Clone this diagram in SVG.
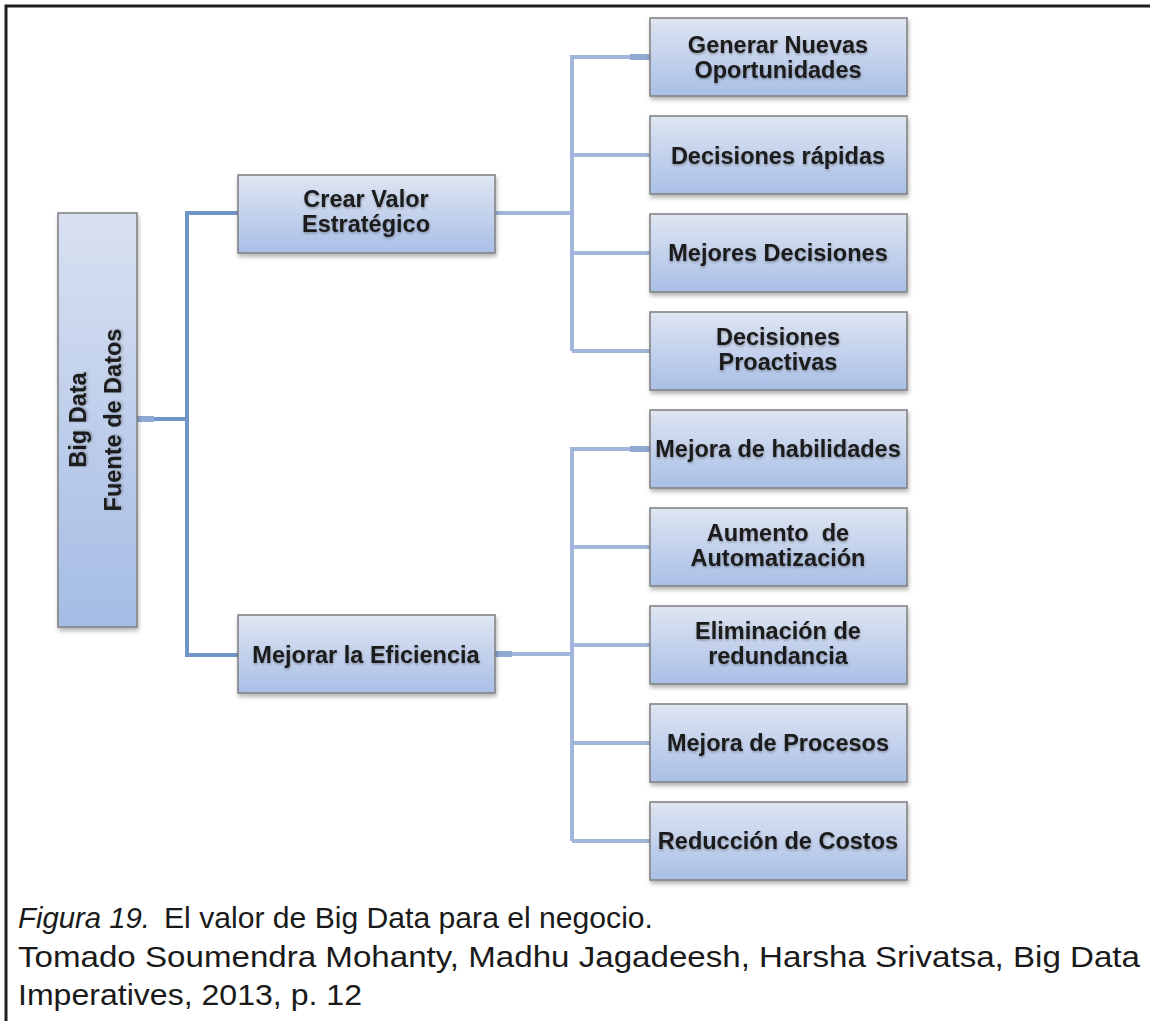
<svg xmlns="http://www.w3.org/2000/svg" width="1150" height="1021" viewBox="0 0 1150 1021">
<defs>
<linearGradient id="g" x1="0" y1="0" x2="0" y2="1">
<stop offset="0" stop-color="#dfe5f2"/>
<stop offset="1" stop-color="#a9bfe6"/>
</linearGradient>
<linearGradient id="gv" x1="0" y1="0" x2="0" y2="1">
<stop offset="0" stop-color="#d9e1f1"/>
<stop offset="1" stop-color="#a5bce5"/>
</linearGradient>
<filter id="sh" x="-10%" y="-10%" width="130%" height="140%">
<feDropShadow dx="1" dy="3" stdDeviation="2" flood-color="#000" flood-opacity="0.3"/>
</filter>
<filter id="ts" x="-5%" y="-20%" width="110%" height="150%">
<feDropShadow dx="0.5" dy="1.5" stdDeviation="1.2" flood-color="#000" flood-opacity="0.3"/>
</filter>
</defs>
<style>
.box{fill:url(#g);stroke:#7f7f7f;stroke-width:1.5;filter:url(#sh)}
.t{font-family:"Liberation Sans",Arial,sans-serif;font-weight:bold;font-size:23.5px;fill:#1a1a1a;text-anchor:middle;filter:url(#ts)}
.cl{fill:none;stroke:#7096c8;stroke-width:4}
.cr{fill:none;stroke:#a0b5d9;stroke-width:4}
.stub{stroke:#90a9d3;stroke-width:6}
.cap{font-family:"Liberation Sans",Arial,sans-serif;font-size:30px;fill:#1a1a1a}
</style>
<rect width="1150" height="1021" fill="#fff"/>
<path d="M6 1021 V6 H1150" fill="none" stroke="#1e1e1e" stroke-width="3"/>

<g id="connectors">
<path class="cl" d="M137 419 H187 M187 213 V655 M185 213 H238 M185 655 H238"/>
<path class="cr" d="M495 213 H572 M572 57 V351 M570 57 H650 M572 155 H650 M572 253 H650 M572 351 H650"/>
<path class="cr" d="M495 654 H572 M572 449 V841 M570 449 H650 M572 547 H650 M572 645 H650 M572 743 H650 M572 841 H650"/>
<path class="stub" d="M137 419 H154 M495 654 H512 M630 449 H650 M630 57 H650"/>
</g>

<g id="bigdata">
<rect x="58" y="213" width="79" height="414" fill="url(#gv)" stroke="#7f7f7f" stroke-width="1.5" filter="url(#sh)"/>
<text class="t" transform="translate(97 420) rotate(-90)"><tspan x="0" y="-11">Big Data</tspan><tspan x="0" y="24">Fuente de Datos</tspan></text>
</g>

<g id="crear">
<rect class="box" x="238" y="175" width="257" height="78"/>
<text class="t"><tspan x="366" y="207">Crear Valor</tspan><tspan x="366" y="232">Estratégico</tspan></text>
</g>
<g id="mejorar">
<rect class="box" x="238" y="615" width="257" height="78"/>
<text class="t" x="366" y="663">Mejorar la Eficiencia</text>
</g>

<g id="n1">
<rect class="box" x="650" y="18" width="257" height="78"/>
<text class="t"><tspan x="778" y="53">Generar Nuevas</tspan><tspan x="778" y="78">Oportunidades</tspan></text>
</g>
<g id="n2">
<rect class="box" x="650" y="116" width="257" height="78"/>
<text class="t" x="778" y="164">Decisiones rápidas</text>
</g>
<g id="n3">
<rect class="box" x="650" y="214" width="257" height="78"/>
<text class="t" x="778" y="261">Mejores Decisiones</text>
</g>
<g id="n4">
<rect class="box" x="650" y="312" width="257" height="78"/>
<text class="t"><tspan x="778" y="345">Decisiones</tspan><tspan x="778" y="370">Proactivas</tspan></text>
</g>
<g id="n5">
<rect class="box" x="650" y="410" width="257" height="78"/>
<text class="t" x="778" y="457">Mejora de habilidades</text>
</g>
<g id="n6">
<rect class="box" x="650" y="508" width="257" height="78"/>
<text class="t"><tspan x="778" y="541" xml:space="preserve">Aumento  de</tspan><tspan x="778" y="566">Automatización</tspan></text>
</g>
<g id="n7">
<rect class="box" x="650" y="606" width="257" height="78"/>
<text class="t"><tspan x="778" y="639">Eliminación de</tspan><tspan x="778" y="664">redundancia</tspan></text>
</g>
<g id="n8">
<rect class="box" x="650" y="704" width="257" height="78"/>
<text class="t" x="778" y="751">Mejora de Procesos</text>
</g>
<g id="n9">
<rect class="box" x="650" y="802" width="257" height="78"/>
<text class="t" x="778" y="849">Reducción de Costos</text>
</g>

<g id="caption">
<text class="cap" x="18" y="928" font-style="italic" textLength="132" lengthAdjust="spacingAndGlyphs">Figura 19.</text>
<text class="cap" x="164" y="928" textLength="489" lengthAdjust="spacingAndGlyphs">El valor de Big Data para el negocio.</text>
<text class="cap" x="18" y="967" textLength="1122" lengthAdjust="spacingAndGlyphs">Tomado Soumendra Mohanty, Madhu Jagadeesh, Harsha Srivatsa, Big Data</text>
<text class="cap" x="18" y="1005" textLength="344" lengthAdjust="spacingAndGlyphs">Imperatives, 2013, p. 12</text>
</g>
</svg>
